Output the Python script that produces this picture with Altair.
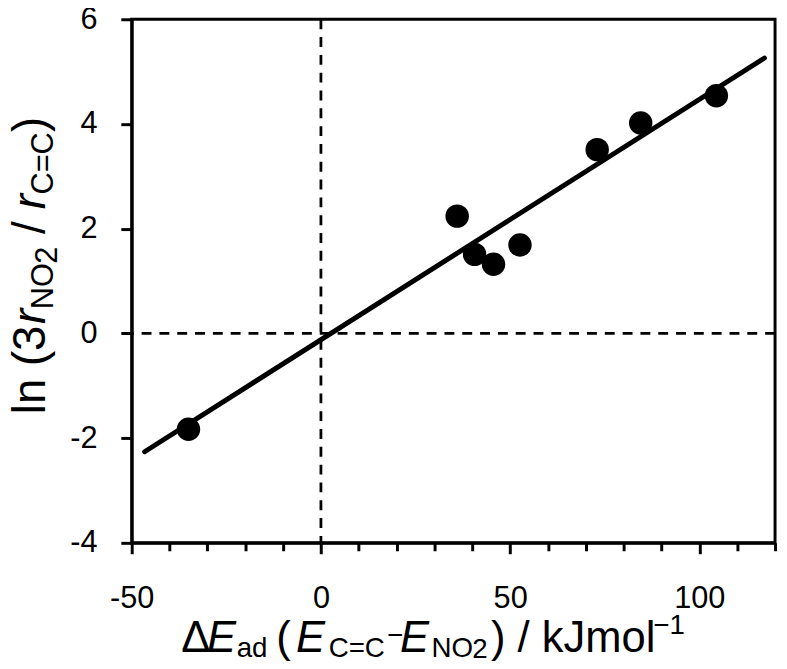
import altair as alt
import pandas as pd

# values
de_ad = [-35.0, 36.0, 40.6, 45.6, 52.6, 73.0, 84.5, 104.5]
ln_ratio = [-1.83, 2.24, 1.51, 1.32, 1.69, 3.51, 4.02, 4.54]
fit_x = [-46.6, 117.2]
fit_y = [-2.26, 5.26]
x_zero = [0]
y_zero = [0]
x_ticks = list(range(-50, 121, 10))
y_ticks = [-4, -2, 0, 2, 4, 6]

FONT = "Liberation Sans"
W, H = 650, 529
OX, OY = 133, 16  # page position of plot origin

pts = pd.DataFrame({"x": de_ad, "y": ln_ratio})
fit = pd.DataFrame({"x": fit_x, "y": fit_y})
vz = pd.DataFrame({"x": x_zero})
hz = pd.DataFrame({"y": y_zero})

xenc = alt.X(
    "x:Q",
    scale=alt.Scale(domain=[-50, 120], nice=False, zero=False),
    axis=alt.Axis(
        values=x_ticks,
        labelExpr="datum.value % 50 === 0 ? '' + datum.value : ''",
        tickSize={"condition": {"test": "datum.value % 50 === 0", "value": 11}, "value": 8},
        labelPadding=30,
        labelFlush=False,
        labelOverlap=False,
    ),
    title=None,
)
yenc = alt.Y(
    "y:Q",
    scale=alt.Scale(domain=[-4, 6], nice=False, zero=False),
    axis=alt.Axis(
        values=y_ticks,
        labelExpr="'' + datum.value",
        tickSize=11,
        labelPadding=24,
        labelFlush=False,
        labelOverlap=False,
    ),
    title=None,
)

vline = alt.Chart(vz).mark_rule(color="black", strokeWidth=2.8, strokeDash=[10, 8]).encode(x=xenc)
hline = alt.Chart(hz).mark_rule(color="black", strokeWidth=2.8, strokeDash=[10, 8]).encode(y=yenc)
line = alt.Chart(fit).mark_line(color="black", strokeWidth=5, strokeCap="round").encode(x=xenc, y=yenc)
points = alt.Chart(pts).mark_circle(color="black", opacity=1, size=560).encode(x=xenc, y=yenc)

anchor = alt.Data(values=[{"a": 1}])


def seg(txt, px, py, size, italic=False, angle=None):
    kw = dict(text=txt, fontSize=size, font=FONT, align="left", baseline="alphabetic", color="black")
    if italic:
        kw["fontStyle"] = "italic"
    if angle is not None:
        kw["angle"] = angle
    return alt.Chart(anchor).mark_text(**kw).encode(x=alt.value(px - OX), y=alt.value(py - OY))


segs = [
    # x title
    seg("Δ", 183, 655, 44),
    seg("E", 209, 655, 44, italic=True),
    seg("ad", 239, 660, 28),
    seg("(", 279, 655, 44),
    seg("E", 299, 655, 44, italic=True),
    seg("C=C", 332, 660, 28),
    seg("−", 391, 647, 28),
    seg("E", 404, 655, 44, italic=True),
    seg("NO", 436, 660, 28),
    seg("2", 477, 661, 28),
    seg(") / kJmol", 496, 655, 44),
    seg("−1", 660, 637, 28),
    # y title (rotated, reading upwards)
    seg("ln (3", 45, 415, 46, angle=270),
    seg("r", 45, 324, 46, italic=True, angle=270),
    seg("NO", 53, 309, 31, angle=270),
    seg("2", 58, 263, 31, angle=270),
    seg("/", 45, 233, 46, angle=270),
    seg("r", 45, 208, 46, italic=True, angle=270),
    seg("C=C", 53, 193, 31, angle=270),
    seg(")", 45, 130, 46, angle=270),
]

chart = (
    alt.layer(vline, hline, line, points, *segs)
    .properties(
        width=W,
        height=H,
        autosize=alt.AutoSizeParams(type="none"),
        padding={"left": 125, "top": 8, "right": 4, "bottom": 116},
    )
    .configure_view(stroke="black", strokeWidth=3)
    .configure_axis(
        domainColor="black",
        domainWidth=3,
        tickColor="black",
        tickWidth=3,
        labelFont=FONT,
        labelFontSize=31,
        labelColor="black",
        grid=False,
    )
)

chart.save("out.html", embed_options={"renderer": "svg", "actions": False})
